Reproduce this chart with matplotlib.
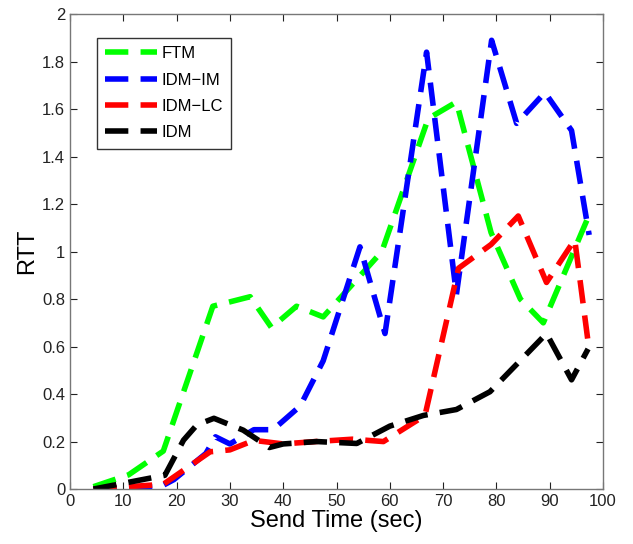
import matplotlib
matplotlib.use('Agg')
import matplotlib.pyplot as plt

plt.rcParams['font.family'] = ['Liberation Sans', 'DejaVu Sans']

# data (send time in sec, RTT)
ftm_x = [4.4, 11, 17.5, 26.8, 33.8, 37.8, 42.5, 47.5, 58.5, 67.2, 72.5, 79, 84.5, 88.8, 97.5]
ftm_y = [0.01, 0.06, 0.16, 0.77, 0.81, 0.68, 0.77, 0.725, 1.0, 1.56, 1.63, 1.08, 0.80, 0.70, 1.16]

idm_im_x = [4.4, 17, 19.5, 25.5, 27.3, 30, 34.5, 38.1, 43.2, 47.5, 54.4, 59.1, 66.9, 72.5, 79.1, 83.8, 89.1, 94.1, 97.4]
idm_im_y = [0.0, 0.01, 0.04, 0.15, 0.22, 0.19, 0.25, 0.25, 0.35, 0.54, 1.02, 0.655, 1.84, 0.82, 1.89, 1.54, 1.67, 1.51, 1.07]

idm_lc_x = [4.4, 17.5, 26.3, 30, 34.5, 40, 46, 53, 58.8, 66.6, 72.9, 79, 84.1, 89.4, 94.7, 97.2]
idm_lc_y = [0.0, 0.02, 0.157, 0.165, 0.205, 0.19, 0.20, 0.21, 0.20, 0.31, 0.93, 1.03, 1.15, 0.87, 1.05, 0.62]

idm_x = [4.4, 17.8, 21.3, 23.8, 27, 32.5, 37.4, 40, 46.3, 53.8, 60, 66.3, 72.5, 78.8, 84, 89.4, 94.1, 97.2]
idm_y = [0.0, 0.058, 0.206, 0.27, 0.298, 0.248, 0.175, 0.19, 0.20, 0.192, 0.265, 0.31, 0.335, 0.41, 0.53, 0.655, 0.46, 0.59]

series = [
    ('FTM', ftm_x, ftm_y, '#00ff00'),
    ('IDM\u2212IM', idm_im_x, idm_im_y, '#0000ff'),
    ('IDM\u2212LC', idm_lc_x, idm_lc_y, '#ff0000'),
    ('IDM', idm_x, idm_y, '#000000'),
]

fig = plt.figure(figsize=(6.33, 5.44), dpi=100)
ax = fig.add_axes([0.1106, 0.101, 0.842, 0.873])

for name, xs, ys, col in series:
    ln, = ax.plot(xs, ys, color=col, lw=4, label=name)
    ln.set_dashes([4.2, 2.2])
    ln.set_dash_capstyle('butt')

ax.set_xlim(0, 100)
ax.set_ylim(0, 2)
ax.set_xticks(range(0, 101, 10))
ax.set_yticks([0, 0.2, 0.4, 0.6, 0.8, 1, 1.2, 1.4, 1.6, 1.8, 2])
ax.set_yticklabels(['0', '0.2', '0.4', '0.6', '0.8', '1', '1.2', '1.4', '1.6', '1.8', '2'])
ax.tick_params(direction='in', top=True, right=True, length=5, width=0.8,
               labelsize=12, colors='#222222')
for sp in ax.spines.values():
    sp.set_color('#777777')
    sp.set_linewidth(1.0)

ax.set_xlabel('Send Time (sec)', fontsize=17, labelpad=1)
ax.set_ylabel('RTT', fontsize=17, labelpad=3)

leg = ax.legend(loc='upper left', bbox_to_anchor=(0.05, 0.95), borderaxespad=0,
                fontsize=12, handlelength=3.1, labelspacing=0.68, borderpad=0.5,
                handletextpad=0.3, fancybox=False, framealpha=1)
leg.get_frame().set_edgecolor('#333333')
leg.get_frame().set_linewidth(1.0)

fig.savefig('out.png', dpi=100)
